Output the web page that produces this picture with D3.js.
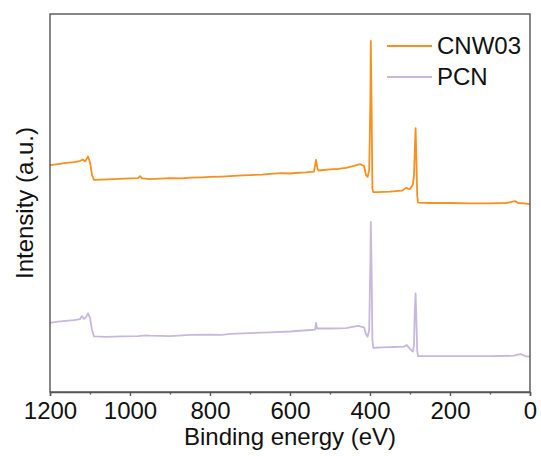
<!DOCTYPE html>
<html>
<head>
<meta charset="utf-8">
<script src="https://cdn.jsdelivr.net/npm/d3@7"></script>
<style>
  body { margin: 0; background: #fff; }
  svg text { font-family: "Liberation Sans", Arial, sans-serif; fill: #111; }
</style>
</head>
<body>
<script>
// chart size and margins
var width = 541;
var height = 456;
var margin = {top: 14, right: 11, bottom: 64, left: 50};

// binding energy (eV) and intensity (a.u.)
var energyCNW = [1200, 1180, 1160, 1140, 1125, 1118, 1112, 1105, 1100, 1095, 1090, 1070, 1040, 1000, 980, 975, 970, 950, 900, 870, 850, 820, 800, 770, 750, 720, 700, 670, 650, 620, 600, 580, 560, 540, 535, 531, 528, 500, 480, 460, 440, 425, 415, 410, 406, 402, 399, 398, 396, 394, 392, 380, 350, 320, 310, 305, 300, 293, 290, 288, 286, 284, 282, 280, 250, 200, 150, 100, 60, 37, 30, 15, 0];
var intensityCNW = [60.0, 60.3, 60.6, 60.8, 61.1, 61.5, 61.0, 62.3, 60.8, 57.4, 56.1, 56.2, 56.3, 56.5, 56.6, 57.1, 56.5, 56.3, 56.6, 56.5, 56.7, 56.8, 56.9, 57.0, 57.1, 57.3, 57.4, 57.5, 57.7, 57.9, 57.8, 58.0, 58.1, 58.3, 61.4, 58.9, 58.6, 58.9, 59.0, 59.3, 59.8, 60.3, 59.8, 57.4, 56.9, 58.7, 77.2, 92.9, 74.6, 53.8, 52.9, 52.9, 53.0, 53.3, 54.0, 53.8, 53.7, 54.8, 57.4, 64.0, 69.8, 61.4, 52.1, 50.1, 50.0, 50.0, 49.9, 49.9, 50.0, 50.5, 50.0, 49.9, 49.7];

var energyPCN = [1200, 1180, 1160, 1140, 1125, 1120, 1115, 1110, 1105, 1100, 1095, 1090, 1060, 1020, 980, 960, 950, 900, 850, 800, 770, 750, 700, 650, 600, 550, 537, 535, 532, 500, 460, 430, 415, 410, 406, 402, 399, 398, 396, 394, 392, 370, 340, 315, 308, 300, 293, 290, 288, 286, 284, 282, 280, 250, 200, 100, 40, 25, 20, 10, 0];
var intensityPCN = [18.3, 18.6, 18.8, 19.0, 19.3, 20.1, 19.3, 19.8, 20.8, 19.6, 16.4, 14.7, 14.6, 14.7, 14.8, 15.0, 14.9, 14.8, 15.1, 15.2, 15.1, 15.4, 15.6, 15.8, 16.0, 16.4, 16.5, 18.3, 16.8, 16.8, 16.9, 17.5, 17.1, 15.3, 14.6, 16.4, 34.9, 45.0, 32.3, 13.8, 11.7, 11.8, 11.9, 12.0, 12.4, 11.4, 10.7, 12.4, 21.7, 26.1, 19.0, 11.0, 9.5, 9.5, 9.5, 9.5, 9.6, 10.0, 9.9, 9.4, 9.35];

var seriesNames = ['CNW03', 'PCN'];
var seriesColors = ['#f7901e', '#c7b8dc'];
var xTicks = [1200, 1000, 800, 600, 400, 200, 0];
var xMinorTicks = [1100, 900, 700, 500, 300, 100];

var svg = d3.select('body').append('svg')
  .attr('width', width).attr('height', height);

var x = d3.scaleLinear().domain([1200, 0]).range([margin.left, width - margin.right]);
var y = d3.scaleLinear().domain([0, 100]).range([height - margin.bottom, margin.top]);

var line = d3.line()
  .x(function(d) { return x(d[0]); })
  .y(function(d) { return y(d[1]); });

var series = [
  d3.zip(energyCNW, intensityCNW),
  d3.zip(energyPCN, intensityPCN)
];

// spectra (PCN first so orange is on top)
[1, 0].forEach(function(i) {
  svg.append('path').datum(series[i])
    .attr('fill', 'none')
    .attr('stroke', seriesColors[i])
    .attr('stroke-width', 1.8)
    .attr('stroke-linejoin', 'round')
    .attr('d', line);
});

// frame
var axisColor = '#555';
svg.append('rect')
  .attr('x', margin.left).attr('y', margin.top)
  .attr('width', width - margin.left - margin.right)
  .attr('height', height - margin.top - margin.bottom)
  .attr('fill', 'none').attr('stroke', axisColor).attr('stroke-width', 1.4);

// bottom axis, major ticks with labels
var xAxis = svg.append('g')
  .attr('transform', 'translate(0,' + (height - margin.bottom) + ')')
  .call(d3.axisBottom(x).tickValues(xTicks).tickSize(4).tickPadding(6).tickFormat(d3.format('d')));
xAxis.select('.domain').attr('stroke', axisColor).attr('stroke-width', 1.4);
xAxis.selectAll('.tick line').attr('stroke', axisColor).attr('stroke-width', 1.4);
xAxis.selectAll('.tick text').attr('font-size', 24).attr('fill', '#111')
  .style('font-family', '"Liberation Sans", Arial, sans-serif');

// minor ticks
var xMinor = svg.append('g')
  .attr('transform', 'translate(0,' + (height - margin.bottom) + ')')
  .call(d3.axisBottom(x).tickValues(xMinorTicks).tickSize(2.5).tickFormat(''));
xMinor.select('.domain').remove();
xMinor.selectAll('.tick line').attr('stroke', axisColor).attr('stroke-width', 1.4);

// axis titles
svg.append('text')
  .attr('x', (margin.left + width - margin.right) / 2)
  .attr('y', 445)
  .attr('text-anchor', 'middle')
  .attr('font-size', 24)
  .text('Binding energy (eV)');

svg.append('text')
  .attr('transform', 'translate(33,' + ((margin.top + height - margin.bottom) / 2) + ') rotate(-90)')
  .attr('text-anchor', 'middle')
  .attr('font-size', 24)
  .text('Intensity (a.u.)');

// legend
var legend = svg.append('g');
seriesNames.forEach(function(name, i) {
  var ly = 46 + i * 31;
  legend.append('line')
    .attr('x1', 387).attr('x2', 432).attr('y1', ly).attr('y2', ly)
    .attr('stroke', seriesColors[i]).attr('stroke-width', 1.8);
  legend.append('text')
    .attr('x', 437).attr('y', ly + 6)
    .attr('dominant-baseline', 'auto')
    .attr('font-size', 24)
    .attr('dy', '0.1em')
    .text(name);
});
</script>
</body>
</html>
